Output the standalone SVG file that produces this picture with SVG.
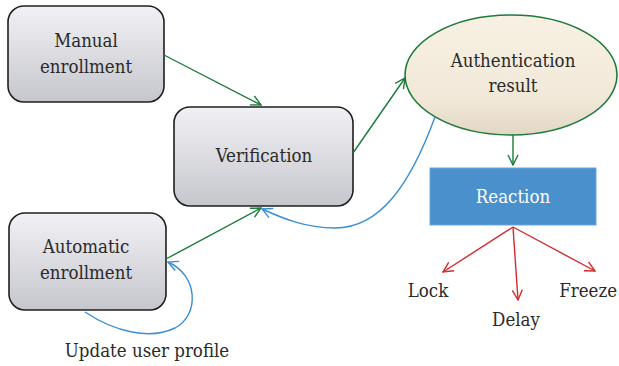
<svg xmlns="http://www.w3.org/2000/svg" width="619" height="366" viewBox="0 0 619 366">
  <style>
    .box { fill: url(#boxGrad); stroke: #1f1f1f; stroke-width: 1.6; }
    .lbl { font-family: 'DejaVu Serif Condensed', 'DejaVu Serif', serif; font-stretch: condensed; font-size: 18.5px; fill: #2a2a2a; text-anchor: middle; }
    .green { stroke: #1d7a3a; stroke-width: 1.4; fill: none; }
    .blue { stroke: #3a8ed6; stroke-width: 1.4; fill: none; }
    .red { stroke: #d42a2e; stroke-width: 1.4; fill: none; }
  </style>
  <defs>
    <linearGradient id="boxGrad" x1="0" y1="0" x2="0" y2="1">
      <stop offset="0" stop-color="#f1f1f5"/>
      <stop offset="1" stop-color="#c6c7cd"/>
    </linearGradient>
    <linearGradient id="ovalGrad" x1="0" y1="0" x2="0" y2="1">
      <stop offset="0" stop-color="#f8f1e3"/>
      <stop offset="0.7" stop-color="#f1e8d8"/>
      <stop offset="1" stop-color="#e2d7c5"/>
    </linearGradient>
    <marker id="arrGreen" viewBox="0 0 12 12" refX="11" refY="6" markerWidth="12" markerHeight="12" markerUnits="userSpaceOnUse" orient="auto">
      <path d="M1,1 L11,6 L1,11" fill="none" stroke="#1d7a3a" stroke-width="1.4"/>
    </marker>
    <marker id="arrBlue" viewBox="0 0 12 12" refX="11" refY="6" markerWidth="12" markerHeight="12" markerUnits="userSpaceOnUse" orient="auto">
      <path d="M1,1 L11,6 L1,11" fill="none" stroke="#3a8ed6" stroke-width="1.4"/>
    </marker>
    <marker id="arrRed" viewBox="0 0 12 12" refX="11" refY="6" markerWidth="12" markerHeight="12" markerUnits="userSpaceOnUse" orient="auto">
      <path d="M1,1 L11,6 L1,11" fill="none" stroke="#d42a2e" stroke-width="1.4"/>
    </marker>
  </defs>

  <rect width="619" height="366" fill="#ffffff"/>

  <g id="manual-enrollment">
    <rect class="box" x="8" y="6" width="156" height="96" rx="16" ry="16"/>
    <text class="lbl" x="86" y="47">Manual</text>
    <text class="lbl" x="86" y="73">enrollment</text>
  </g>

  <g id="verification">
    <rect class="box" x="174" y="107" width="179" height="99" rx="16" ry="16"/>
    <text class="lbl" x="264" y="162">Verification</text>
  </g>

  <g id="automatic-enrollment">
    <rect class="box" x="9" y="213" width="157" height="97" rx="16" ry="16"/>
    <text class="lbl" x="86" y="253">Automatic</text>
    <text class="lbl" x="86" y="279">enrollment</text>
  </g>

  <g id="authentication-result">
    <ellipse cx="511" cy="75" rx="106" ry="60" fill="url(#ovalGrad)" stroke="#1d7a3a" stroke-width="1.6"/>
    <text class="lbl" x="513" y="67">Authentication</text>
    <text class="lbl" x="513" y="92">result</text>
  </g>

  <g id="reaction">
    <rect x="430" y="168" width="166" height="57" fill="#4a90cd" stroke="#6aa6da" stroke-width="1"/>
    <text class="lbl" x="513" y="203" style="fill:#ffffff">Reaction</text>
  </g>

  <g id="outcomes">
    <text class="lbl" x="428" y="297">Lock</text>
    <text class="lbl" x="516" y="326">Delay</text>
    <text class="lbl" x="617" y="297" style="text-anchor:end">Freeze</text>
  </g>

  <g id="update-label">
    <text class="lbl" x="147" y="357">Update user profile</text>
  </g>

  <g id="connectors">
    <line class="green" x1="164" y1="55" x2="261" y2="105" marker-end="url(#arrGreen)"/>
    <line class="green" x1="353" y1="153" x2="405" y2="78" marker-end="url(#arrGreen)"/>
    <line class="green" x1="166" y1="259" x2="261" y2="208" marker-end="url(#arrGreen)"/>
    <line class="green" x1="513" y1="135" x2="513" y2="165" marker-end="url(#arrGreen)"/>
    <path class="blue" d="M435,117 C410,185 380,228 335,228 C305,228 282,218 262,209" marker-end="url(#arrBlue)"/>
    <path class="blue" d="M85,312 C115,332 150,340 175,328 C200,315 198,275 168,262" marker-end="url(#arrBlue)"/>
    <line class="red" x1="513" y1="227" x2="443" y2="272" marker-end="url(#arrRed)"/>
    <line class="red" x1="513" y1="227" x2="518" y2="300" marker-end="url(#arrRed)"/>
    <line class="red" x1="513" y1="227" x2="595" y2="271" marker-end="url(#arrRed)"/>
  </g>
</svg>
